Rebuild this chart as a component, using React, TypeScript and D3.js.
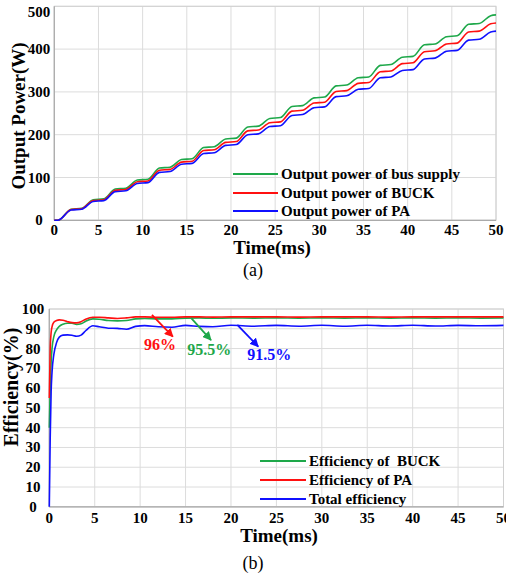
import React from "react";
import * as d3 from "d3";

// ---------- Data: chart (a) ----------
const powerTime = [0, 0.4, 1.9, 3.1, 4.4, 5.6, 6.9, 8.1, 9.4, 10.6, 11.9, 13.1, 14.4, 15.6, 16.9, 18.1, 19.4, 20.6, 21.9, 23.1, 24.4, 25.6, 26.9, 28.1, 29.4, 30.6, 31.9, 33.1, 34.4, 35.6, 36.9, 38.1, 39.4, 40.6, 41.9, 43.1, 44.4, 45.6, 46.9, 48.1, 49.4, 50];
const powerBus = [0, 0, 26, 28, 48, 50, 73, 75, 94, 96, 122, 124, 142, 144, 170, 172, 190, 192, 218, 220, 238, 240, 266, 268, 286, 288, 314, 316, 333, 335, 362, 364, 381, 383, 410, 412, 429, 431, 458, 460, 478, 480];
const powerBuck = [0, 0, 25, 27, 46, 48, 70, 72, 90, 92, 117, 119, 136, 138, 163, 165, 182, 184, 209, 211, 228, 230, 255, 257, 274, 276, 301, 303, 320, 322, 347, 349, 366, 368, 394, 396, 412, 414, 440, 442, 459, 461];
const powerPA = [0, 0, 24, 26, 44, 46, 67, 69, 86, 88, 112, 114, 131, 133, 156, 158, 175, 177, 200, 202, 219, 221, 245, 247, 263, 265, 289, 291, 306, 308, 333, 335, 350, 352, 377, 379, 395, 397, 421, 423, 440, 442];
const powerTicksX = [0, 5, 10, 15, 20, 25, 30, 35, 40, 45, 50];
const powerTicksY = [0, 100, 200, 300, 400, 500];
const powerLegend = ["Output power of bus supply", "Output power of BUCK", "Output power of PA"];

// ---------- Data: chart (b) ----------
const effTime = [0, 0.1, 0.2, 0.3, 0.5, 0.8, 1.1, 1.5, 2, 2.5, 3, 3.5, 4, 4.8, 5.5, 6.5, 7.5, 8.5, 9.5, 10.5, 12, 13.5, 15, 16.5, 18, 20, 22.5, 25, 27.5, 30, 32.5, 35, 37.5, 40, 42.5, 45, 47.5, 50];
const effBuck = [40, 60, 73, 80, 86, 89.5, 91.2, 92.3, 92.8, 92.8, 92.2, 92.5, 93.8, 95, 94.8, 94.2, 94, 94.2, 95, 95.2, 95, 95, 95.4, 95.5, 95.3, 95.5, 95.4, 95.5, 95.4, 95.5, 95.4, 95.5, 95.4, 95.5, 95.4, 95.5, 95.4, 95.5];
const effPA = [55, 80, 88, 91, 93.3, 94.2, 94.5, 94.3, 93.6, 93.1, 93, 93.6, 94.8, 95.8, 95.8, 95.5, 95.2, 95.5, 96, 96, 95.8, 95.8, 96, 96, 95.9, 96, 96, 96, 95.9, 96, 96, 96, 95.9, 96, 96, 96, 96, 96];
const effTotal = [0, 35, 58, 68, 77, 83, 85.8, 86.8, 86.9, 86.7, 86.2, 86.8, 89, 91.5, 91, 90.3, 90.2, 89.8, 91.2, 91.6, 91, 90.8, 91.7, 91.2, 91, 91.8, 91.3, 91.7, 91.3, 91.8, 91.3, 91.8, 91.4, 91.8, 91.4, 91.7, 91.5, 91.7];
const effTicksX = [0, 5, 10, 15, 20, 25, 30, 35, 40, 45, 50];
const effTicksY = [0, 10, 20, 30, 40, 50, 60, 70, 80, 90, 100];
const effLegend = ["Efficiency of  BUCK", "Efficiency of PA", "Total efficiency"];
// annotations
const annLabels = ["96%", "95.5%", "91.5%"];
const annFromT = [11.3, 15.6, 20.7];
const annFromV = [97, 95.5, 92];
const annToT = [13.6, 17.8, 23];
const annToV = [86, 84.3, 81];
const annTextT = [12.2, 17.6, 24.2];
const annTextV = [79.3, 76.7, 74.2];

const GREEN = "#1ea84a";
const RED = "#ff1010";
const BLUE = "#1010ff";
const colors = [GREEN, RED, BLUE];
const FONT = "'Liberation Serif', 'Times New Roman', serif";

function Panel(props: {
  xRange: [number, number];
  yRange: [number, number];
  yDomain: [number, number];
  ticksX: number[];
  ticksY: number[];
  time: number[];
  series: number[][];
  yLabelX: number;
  yLabelMinY: number;
  yTitle: string;
  yTitleX: number;
  yTitleY: number;
  yTitleSize: number;
  xTitleX: number;
  xTitleY: number;
  xTickY: number;
  legend: string[];
  legendX: [number, number];
  legendY: number[];
  children?: (x: any, y: any) => React.ReactNode;
}) {
  const x = d3.scaleLinear().domain([0, 50]).range(props.xRange);
  const y = d3.scaleLinear().domain(props.yDomain).range(props.yRange);
  const line = (vals: number[]) =>
    d3
      .line<number>()
      .x((_, i) => x(props.time[i]))
      .y((d) => y(d))
      .curve(d3.curveMonotoneX)(vals) || "";
  const [x0, x1] = props.xRange;
  const [yb, yt] = props.yRange;
  return (
    <g>
      {props.ticksX.map((t) => (
        <line key={"gx" + t} x1={x(t)} x2={x(t)} y1={yt} y2={yb} stroke="#dcdcdc" strokeWidth={1} />
      ))}
      {props.ticksY.map((t) => (
        <line key={"gy" + t} x1={x0} x2={x1} y1={y(t)} y2={y(t)} stroke="#dcdcdc" strokeWidth={1} />
      ))}
      <rect x={x0} y={yt} width={x1 - x0} height={yb - yt} fill="none" stroke="#d0d0d0" strokeWidth={1} />
      <line x1={x0} x2={x0} y1={yt} y2={yb} stroke="#aaaaaa" strokeWidth={1.2} />
      <line x1={x0} x2={x1} y1={yb} y2={yb} stroke="#aaaaaa" strokeWidth={1.2} />
      {props.series.map((s, i) => (
        <path key={"s" + i} d={line(s)} fill="none" stroke={colors[i]} strokeWidth={1.6} />
      ))}
      {props.ticksX.map((t) => (
        <text key={"tx" + t} x={x(t)} y={props.xTickY} textAnchor="middle" fontFamily={FONT} fontWeight="bold" fontSize={15}>
          {t}
        </text>
      ))}
      {props.ticksY.map((t) => (
        <text
          key={"ty" + t}
          x={props.yLabelX}
          y={Math.max(y(t) + 5, props.yLabelMinY)}
          textAnchor="middle"
          fontFamily={FONT}
          fontWeight="bold"
          fontSize={15}
        >
          {t}
        </text>
      ))}
      <text x={props.xTitleX} y={props.xTitleY} textAnchor="middle" fontFamily={FONT} fontWeight="bold" fontSize={19}>
        Time(ms)
      </text>
      <text
        transform={`translate(${props.yTitleX},${props.yTitleY}) rotate(-90)`}
        textAnchor="middle"
        fontFamily={FONT}
        fontWeight="bold"
        fontSize={props.yTitleSize}
      >
        {props.yTitle}
      </text>
      {props.legend.map((l, i) => (
        <g key={"lg" + i}>
          <line x1={props.legendX[0]} x2={props.legendX[1]} y1={props.legendY[i]} y2={props.legendY[i]} stroke={colors[i]} strokeWidth={2} />
          <text
            x={props.legendX[1] + 3}
            y={props.legendY[i] + 5}
            fontFamily={FONT}
            fontWeight="bold"
            fontSize={15}
            style={{ whiteSpace: "pre" }}
          >
            {l}
          </text>
        </g>
      ))}
      {props.children ? props.children(x, y) : null}
    </g>
  );
}

export default function App() {
  const annColors = [RED, GREEN, BLUE];
  return (
    <svg width={506} height={578} style={{ position: "absolute", left: 0, top: 0, background: "#fff" }}>
      <defs>
        {annColors.map((c, i) => (
          <marker key={i} id={"arr" + i} viewBox="0 0 10 10" refX={9} refY={5} markerWidth={5} markerHeight={5} orient="auto">
            <path d="M0,0 L10,5 L0,10 z" fill={c} />
          </marker>
        ))}
      </defs>
      <Panel
        xRange={[54.3, 496]}
        yRange={[220.3, 6.3]}
        yDomain={[0, 500]}
        ticksX={powerTicksX}
        ticksY={powerTicksY}
        time={powerTime}
        series={[powerBus, powerBuck, powerPA]}
        yLabelX={39}
        yLabelMinY={16.5}
        yTitle="Output Power(W)"
        yTitleX={25}
        yTitleY={116}
        yTitleSize={19}
        xTitleX={272}
        xTitleY={254}
        xTickY={235}
        legend={powerLegend}
        legendX={[233, 278]}
        legendY={[174, 193, 211]}
      />
      <text x={253} y={276} textAnchor="middle" fontFamily={FONT} fontSize={18}>
        (a)
      </text>
      <Panel
        xRange={[49.3, 503.5]}
        yRange={[506.8, 309]}
        yDomain={[0, 100]}
        ticksX={effTicksX}
        ticksY={effTicksY}
        time={effTime}
        series={[effBuck, effPA, effTotal]}
        yLabelX={33}
        yLabelMinY={0}
        yTitle="Efficiency(%)"
        yTitleX={18}
        yTitleY={387}
        yTitleSize={20}
        xTitleX={279}
        xTitleY={542}
        xTickY={523}
        legend={effLegend}
        legendX={[260, 306]}
        legendY={[461, 480, 499]}
      >
        {(x: any, y: any) =>
          annLabels.map((l, i) => (
            <g key={"ann" + i}>
              <line
                x1={x(annFromT[i])}
                y1={y(annFromV[i])}
                x2={x(annToT[i])}
                y2={y(annToV[i])}
                stroke={annColors[i]}
                strokeWidth={1.8}
                markerEnd={`url(#arr${i})`}
              />
              <text x={x(annTextT[i])} y={y(annTextV[i])} textAnchor="middle" fontFamily={FONT} fontWeight="bold" fontSize={16} fill={annColors[i]}>
                {l}
              </text>
            </g>
          ))
        }
      </Panel>
      <text x={253} y={569} textAnchor="middle" fontFamily={FONT} fontSize={18}>
        (b)
      </text>
    </svg>
  );
}
